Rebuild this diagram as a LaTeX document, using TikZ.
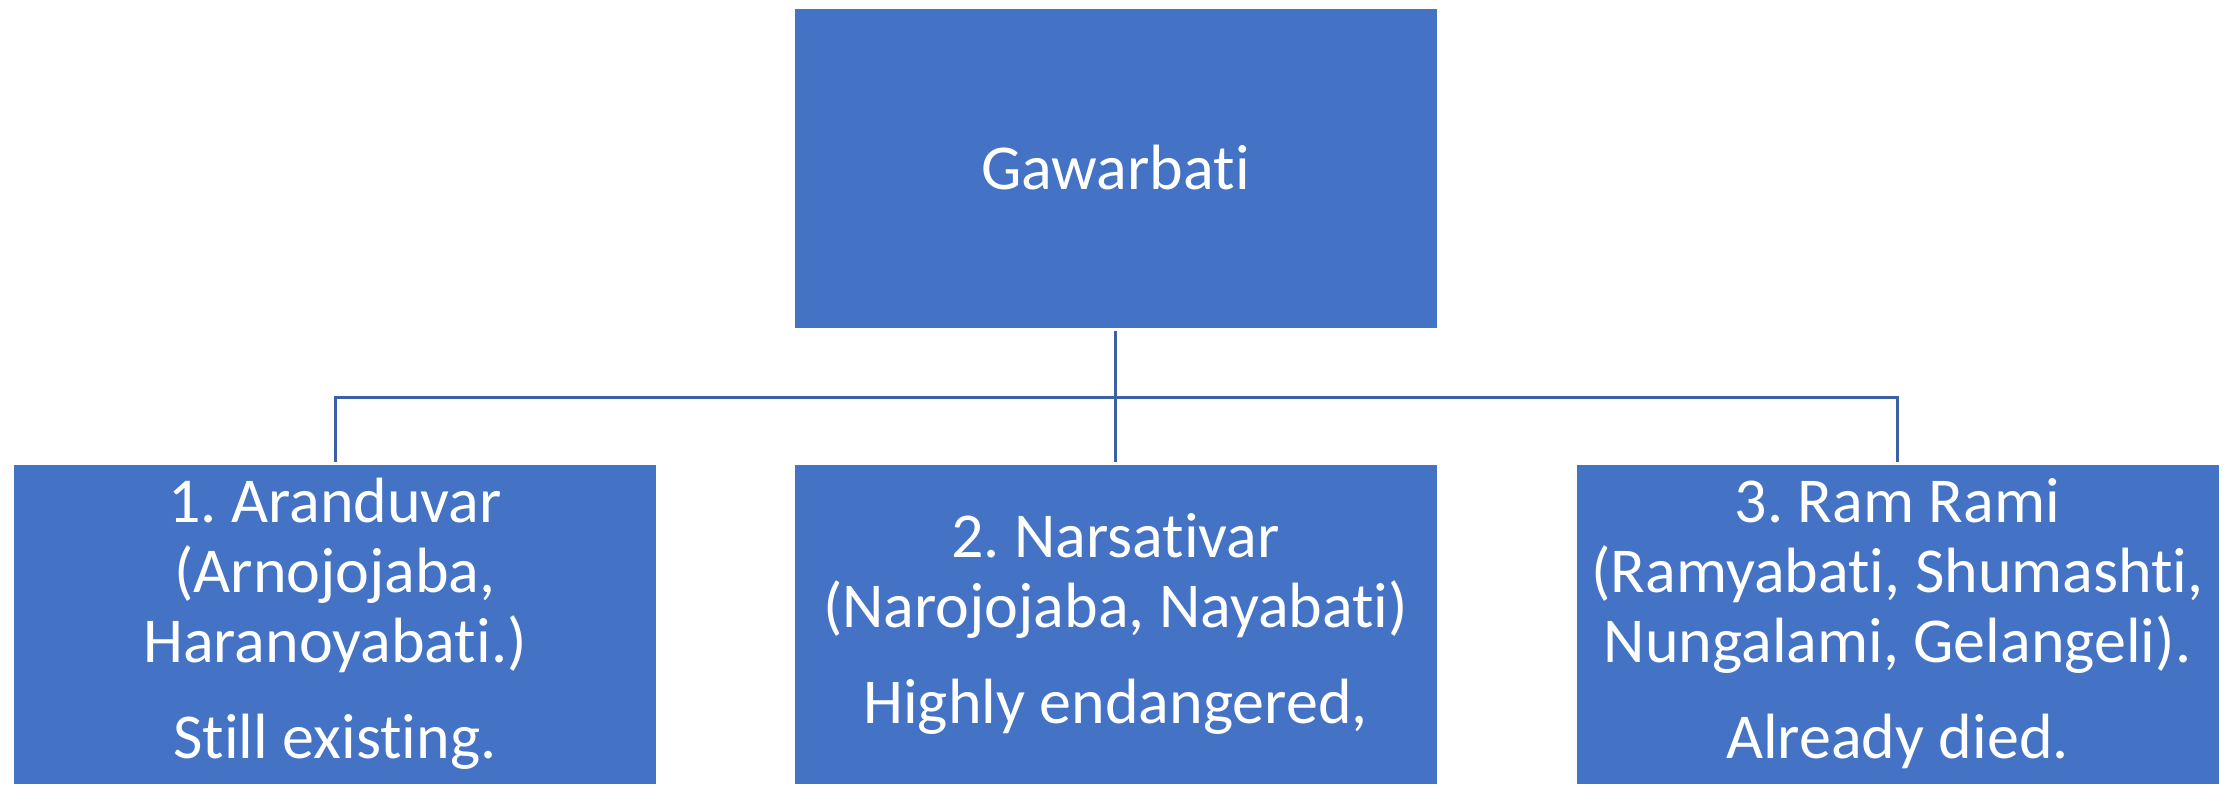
\documentclass[tikz,border=0pt]{standalone}
\usepackage{fontspec}
\setmainfont[Ligatures={NoCommon}]{Carlito}
\definecolor{boxblue}{HTML}{4472C4}
\definecolor{linkblue}{RGB}{59,96,168}
\begin{document}
\frenchspacing
\begin{tikzpicture}[x=0.5pt,y=-0.5pt,
  box/.style={rectangle, fill=boxblue, draw=white, line width=0.4pt,
    minimum width=321.5pt, minimum height=160pt, inner sep=0pt,
    text=white, align=center, font=\fontsize{32}{35}\selectfont},
  link/.style={draw=linkblue, line width=1.5pt}]
\useasboundingbox (0,0) rectangle (2231,784);
\node[box] (top) at (1115.5,168) {Gawarbati};
\node[box] (b1) at (335,624) {1. Aranduvar\\(Arnojojaba,\\Haranoyabati.)\\[13pt]Still existing.};
\node[box] (b2) at (1115.5,624) {2. Narsativar\\(Narojojaba, Nayabati)\\[13pt]Highly endangered,};
\node[box] (b3) at (1897.5,624) {3. Ram Rami\\(Ramyabati, Shumashti,\\Nungalami, Gelangeli).\\[13pt]Already died.};
\coordinate (bus) at (1115.5,397);
\draw[link] ([yshift=-1.5pt]top.south) -- (bus);
\draw[link] (bus) -| ([yshift=1pt]b1.north);
\draw[link] (bus) -| ([yshift=1pt]b3.north);
\draw[link] (bus) -- ([yshift=1pt]b2.north);
\end{tikzpicture}
\end{document}
